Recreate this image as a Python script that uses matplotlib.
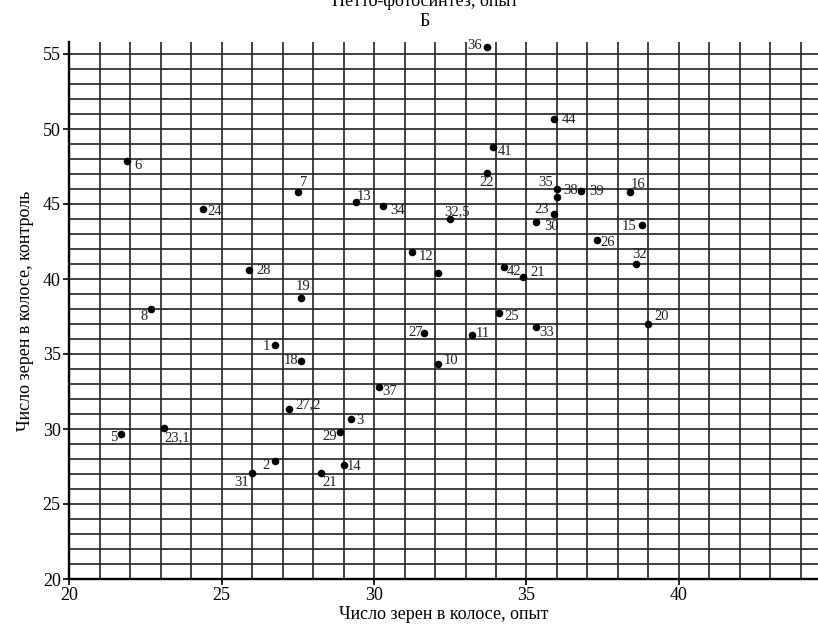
import matplotlib
matplotlib.use("Agg")
import matplotlib.pyplot as plt
import numpy as np

# ---- data ----
x_exp = [33.7, 35.9, 33.9, 33.7, 36.0, 36.0, 36.8, 38.4, 32.5, 35.9, 35.3, 38.8,
         37.3, 31.25, 38.6, 34.25, 34.9, 34.1, 35.3, 39.0, 31.65, 33.2, 32.1, 32.1,
         21.9, 27.5, 24.4, 29.4, 30.3, 25.9, 27.6, 22.7, 26.75, 27.6, 30.15, 27.2,
         29.25, 28.9, 21.7, 23.1, 26.75, 26.0, 28.25, 29.0]
y_ctrl = [55.5, 50.7, 48.8, 47.1, 46.0, 45.5, 45.9, 45.8, 44.0, 44.35, 43.8, 43.6,
          42.6, 41.8, 41.0, 40.8, 40.15, 37.75, 36.8, 37.0, 36.4, 36.25, 34.35, 40.4,
          47.85, 45.8, 44.65, 45.15, 44.9, 40.6, 38.75, 38.0, 35.6, 34.55, 32.8, 31.35,
          30.65, 29.8, 29.7, 30.05, 27.85, 27.05, 27.05, 27.6]
point_labels = ["36", "44", "41", "22", "35", "38", "39", "16", "32,5", "23", "30", "15",
                "26", "12", "32", "42", "21", "25", "33", "20", "27", "11", "10", "",
                "6", "7", "24", "13", "34", "28", "19", "8", "1", "18", "37", "27,2",
                "3", "29", "5", "23,1", "2", "31", "21", "14"]
x_ticks = [20, 25, 30, 35, 40]
y_ticks = [20, 25, 30, 35, 40, 45, 50, 55]

# label offsets (pixels) relative to each point
label_offsets = [(-12, 1), (15, -1), (12, -4), (0, -10), (-11, 6), (14, 6), (15, -1), (8, 8),
                 (7, 7), (-12, 4), (16, -4), (-13, -2), (11, -2), (14, -4), (3, 9), (10, -4),
                 (14, 4), (13, -4), (11, -5), (13, 7), (-9, 1), (11, 2), (13, 3), (0, 0),
                 (11, -4), (6, 10), (11, -2), (8, 5), (14, -5), (15, -1), (2, 11), (-7, -8),
                 (-8, -1), (-10, 0), (11, -4), (19, 4), (9, -1), (-11, -5), (-7, -4), (14, -9),
                 (-9, -4), (-10, -9), (9, -9), (11, -1)]

plt.rcParams['font.family'] = ['Liberation Serif', 'DejaVu Serif']

W, H = 818, 627
fig = plt.figure(figsize=(W / 100, H / 100), dpi=100)
ax = fig.add_axes([69 / W, 1 - 579 / H, (W - 69) / W, (579 - 42) / H])
ax.set_xlim(20, 20 + (W - 69) / 30.5)
ax.set_ylim(20, 20 + (579 - 42) / 15)

grid_c = '#2a2a2a'
for gx in range(21, 45):
    ax.axvline(gx, color=grid_c, lw=1.25, zorder=1)
for gy in range(21, 56):
    ax.axhline(gy, color=grid_c, lw=1.25, zorder=1)

ax.scatter(x_exp, y_ctrl, s=30, color='black', zorder=3, linewidths=0)
for xv, yv, lab, (dx, dy) in zip(x_exp, y_ctrl, point_labels, label_offsets):
    if lab:
        ax.annotate(lab, (xv, yv), xytext=(dx, dy), textcoords='offset pixels',
                    ha='center', va='center', fontsize=10.5, color='#222222', zorder=4)

for s in ['top', 'right']:
    ax.spines[s].set_visible(False)
for s in ['left', 'bottom']:
    ax.spines[s].set_linewidth(1.7)
    ax.spines[s].set_color('black')

ax.set_xticks(x_ticks)
ax.set_yticks(y_ticks)
ax.tick_params(axis='both', direction='out', length=4, width=1.2, labelsize=13,
               colors='black', pad=2)
ax.set_xlabel('Число зерен в колосе, опыт', fontsize=13, labelpad=1)
ax.set_ylabel('Число зерен в колосе, контроль', fontsize=13, labelpad=6)

fig.text(425 / W, 1 - 1 / H, 'Нетто-фотосинтез, опыт', ha='center', va='center', fontsize=13)
fig.text(425 / W, 1 - 22 / H, 'Б', ha='center', va='center', fontsize=13)

fig.savefig('out.png', dpi=100)
